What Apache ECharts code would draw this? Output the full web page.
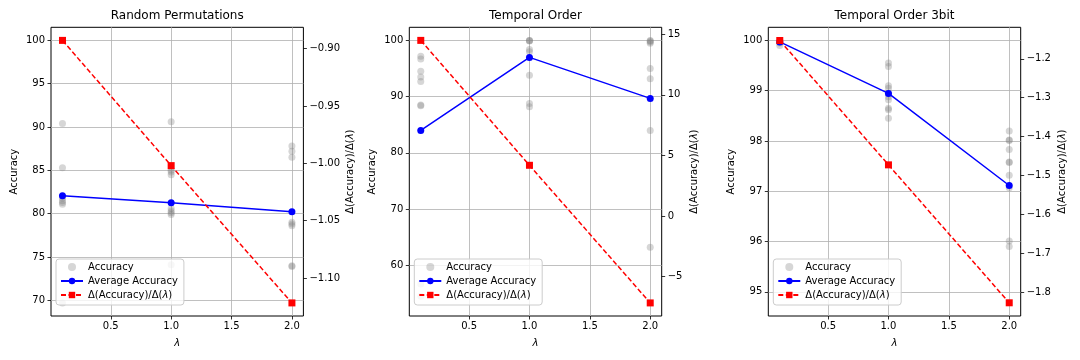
<!DOCTYPE html>
<html><head><meta charset="utf-8">
<script src="https://cdn.jsdelivr.net/npm/echarts@6/dist/echarts.min.js"></script>
<style>html,body{margin:0;padding:0;background:#fff}#c{width:1080px;height:360px}</style>
</head><body><div id="c"></div>
<script>
// ---- data ----
const lambdas = [0.1, 1.0, 2.0];
const titles = ['Random Permutations', 'Temporal Order', 'Temporal Order 3bit'];
const xTicks = [0.5, 1.0, 1.5, 2.0];

// Random Permutations
const rpAccAt01 = [90.4, 85.3, 81.8, 81.5, 81.3, 81.1, 69.7];
const rpAccAt10 = [90.6, 85.0, 84.8, 84.5, 80.6, 80.3, 80.1, 79.9, 74.1];
const rpAccAt20 = [87.8, 87.2, 86.5, 79.0, 78.8, 78.6, 74.0, 73.9];
const rpAvg = [82.08, 81.27, 80.23];
const rpSlope = [-0.8929, -1.002, -1.1216];
const rpLeftTicks = [70, 75, 80, 85, 90, 95, 100];
const rpRightTicks = [-1.10, -1.05, -1.00, -0.95, -0.90];

// Temporal Order
const toAccAt01 = [97.2, 96.7, 94.5, 93.5, 92.7, 88.5, 88.4, 56.7, 54.5];
const toAccAt10 = [100.0, 100.0, 99.9, 98.4, 98.0, 93.8, 88.8, 88.2];
const toAccAt20 = [100.0, 99.9, 99.7, 99.5, 95.0, 93.2, 84.0, 63.2];
const toAvg = [84.0, 96.98, 89.69];
const toSlope = [14.50, 4.19, -7.17];
const toLeftTicks = [60, 70, 80, 90, 100];
const toRightTicks = [-5, 0, 5, 10, 15];

// Temporal Order 3bit
const t3AccAt01 = [99.9, 99.95, 100.0, 99.97];
const t3AccAt10 = [99.55, 99.48, 99.1, 99.05, 98.95, 98.88, 98.82, 98.65, 98.62, 98.45];
const t3AccAt20 = [98.2, 98.02, 98.01, 97.83, 97.58, 97.57, 97.32, 97.07, 96.01, 95.9];
const t3Avg = [99.97, 98.945, 97.115];
const t3Slope = [-1.153, -1.473, -1.828];
const t3LeftTicks = [95, 96, 97, 98, 99, 100];
const t3RightTicks = [-1.8, -1.7, -1.6, -1.5, -1.4, -1.3, -1.2];

// ---- layout ----
const FONT = 'DejaVu Sans';
const panels = [
  {acc: [rpAccAt01, rpAccAt10, rpAccAt20], avg: rpAvg, slope: rpSlope, lt: rpLeftTicks, rt: rpRightTicks,
   lmin: 68.185, lmax: 101.515, rmin: -1.133, rmax: -0.8815, rdec: 2, left: 51, rGap: 42},
  {acc: [toAccAt01, toAccAt10, toAccAt20], avg: toAvg, slope: toSlope, lt: toLeftTicks, rt: toRightTicks,
   lmin: 50.99, lmax: 102.33, rmin: -8.25, rmax: 15.58, rdec: 0, left: 409.3, rGap: 28},
  {acc: [t3AccAt01, t3AccAt10, t3AccAt20], avg: t3Avg, slope: t3Slope, lt: t3LeftTicks, rt: t3RightTicks,
   lmin: 94.52, lmax: 100.26, rmin: -1.862, rmax: -1.119, rdec: 1, left: 768.3, rGap: 37}
];
const W = 252.4, TOP = 27.3, H = 288.7;
const fmt = (v, d) => Number(v).toFixed(d).replace('-', '\u2212');
const slopeName = 'Δ(Accuracy)/Δ(λ)';
const rich = {n: {fontSize: 10, fontFamily: FONT, color: '#000'}, i: {fontSize: 10, fontFamily: FONT, fontStyle: 'italic', color: '#000'}};
const richSlope = '{n|Δ(Accuracy)/Δ(}{i|λ}{n|)}';

const option = {animation: false, backgroundColor: '#fff', title: [], grid: [], xAxis: [], yAxis: [], legend: [], series: []};
const tickStyle = {show: true, length: 3.5, inside: false, lineStyle: {color: '#000', width: 0.8}};
const gridLine = {show: true, lineStyle: {color: '#b0b0b0', width: 0.8}};
const noLine = {show: false, onZero: false};

panels.forEach((p, i) => {
  option.title.push({text: titles[i], left: p.left + W / 2, top: 10, textAlign: 'center', padding: 0,
    textStyle: {fontFamily: FONT, fontSize: 12, fontWeight: 'normal', color: '#000'}});
  option.grid.push({left: p.left, top: TOP, width: W, height: H, show: true, borderColor: '#000', borderWidth: 1, backgroundColor: 'transparent'});
  option.xAxis.push({type: 'value', gridIndex: i, position: 'bottom', min: 0.005, max: 2.095,
    name: 'λ', nameLocation: 'middle', nameGap: 22,
    nameTextStyle: {fontFamily: FONT, fontSize: 10, fontStyle: 'italic', color: '#000'},
    axisLine: noLine, axisTick: Object.assign({customValues: xTicks}, tickStyle),
    axisLabel: {customValues: xTicks, formatter: v => fmt(v, 1), fontFamily: FONT, fontSize: 10, color: '#000', margin: 5},
    splitLine: gridLine});
  option.yAxis.push({type: 'value', gridIndex: i, position: 'left', min: p.lmin, max: p.lmax,
    name: 'Accuracy', nameLocation: 'middle', nameRotate: 90, nameGap: 32,
    nameTextStyle: {fontFamily: FONT, fontSize: 10, color: '#000'},
    axisLine: noLine, axisTick: Object.assign({customValues: p.lt}, tickStyle),
    axisLabel: {customValues: p.lt, formatter: v => fmt(v, 0), fontFamily: FONT, fontSize: 10, color: '#000', margin: 6},
    splitLine: gridLine});
  option.yAxis.push({type: 'value', gridIndex: i, position: 'right', min: p.rmin, max: p.rmax,
    name: richSlope, nameLocation: 'middle', nameRotate: 90, nameGap: p.rGap,
    nameTextStyle: {fontFamily: FONT, fontSize: 10, color: '#000', rich: rich},
    axisLine: noLine, axisTick: Object.assign({customValues: p.rt}, tickStyle),
    axisLabel: {customValues: p.rt, formatter: v => fmt(v, p.rdec), fontFamily: FONT, fontSize: 10, color: '#000', margin: 6},
    splitLine: {show: false}});
  option.legend.push({orient: 'vertical', left: p.left + 5, top: 259, padding: [3, 6, 5, 4],
    itemWidth: 22, itemHeight: 8, itemGap: 4,
    backgroundColor: 'rgba(255,255,255,0.8)', borderColor: '#cccccc', borderWidth: 1, borderRadius: 3,
    data: ['Accuracy', 'Average Accuracy', slopeName],
    formatter: n => n === slopeName ? richSlope : '{n|' + n + '}',
    textStyle: {fontFamily: FONT, fontSize: 10, color: '#000', rich: rich}});
  const pts = [];
  lambdas.forEach((x, k) => p.acc[k].forEach(y => pts.push([x, y])));
  option.series.push({type: 'scatter', name: 'Accuracy', xAxisIndex: i, yAxisIndex: 2 * i,
    data: pts, symbol: 'circle', symbolSize: 7, itemStyle: {color: 'rgba(128,128,128,0.4)'}});
  option.series.push({type: 'line', name: 'Average Accuracy', xAxisIndex: i, yAxisIndex: 2 * i,
    data: lambdas.map((x, k) => [x, p.avg[k]]), symbol: 'circle', symbolSize: 7, showSymbol: true,
    itemStyle: {color: '#0000ff'}, lineStyle: {color: '#0000ff', width: 1.5}});
  option.series.push({type: 'line', name: slopeName, xAxisIndex: i, yAxisIndex: 2 * i + 1,
    data: lambdas.map((x, k) => [x, p.slope[k]]), symbol: 'rect', symbolSize: 7, showSymbol: true,
    itemStyle: {color: '#ff0000'}, lineStyle: {color: '#ff0000', width: 1.5, type: [5, 2.5]}});
});

const chart = echarts.init(document.getElementById('c'), null, {renderer: 'canvas'});
chart.setOption(option);
</script></body></html>
